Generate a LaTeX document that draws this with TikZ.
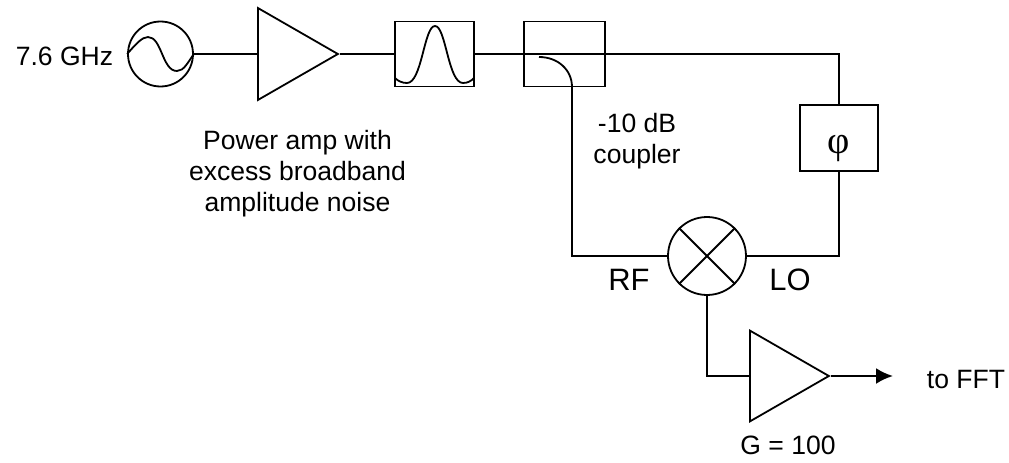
\documentclass[tikz,border=0pt]{standalone}
\usepackage{fontspec}
\setmainfont{Liberation Sans}
\newfontfamily\phifont{Liberation Serif}
\usetikzlibrary{arrows.meta,shapes.geometric}

\begin{document}
\begin{tikzpicture}[x=0.02cm, y=-0.02cm, >=Latex, line width=0.036cm,
    font=\fontsize{15.1}{17.8}\selectfont,
    block/.style={draw, rectangle, inner sep=0pt},
    ring/.style={draw, circle, inner sep=0pt},
    amp/.style={draw, isosceles triangle, isosceles triangle stretches,
      inner sep=0pt, minimum width=#1*1.15, minimum height=#1},
    port/.style={font=\fontsize{17.6}{20}\selectfont},
    arrow/.style={-{Latex[length=0.34cm,width=0.32cm]}, line width=0.045cm}]

    \useasboundingbox (0,0) rectangle (1009,463);

    % Top chain
    \node[ring, minimum size=1.3cm] (source) at (160.5,54) {};
    \node[amp=1.6cm, anchor=lower side] (power) at (257,54) {};
    \node[block, minimum width=1.58cm, minimum height=1.3cm] (filter) at (434.5,54) {};
    \node[block, minimum width=1.62cm, minimum height=1.3cm] (coupler) at (564.5,54) {};
    \node[block, minimum width=1.56cm, minimum height=1.32cm] (phase) at (839,138)
      {\raisebox{-9pt}[0pt][0pt]{\fontsize{22}{22}\phifont φ}};

    % Bottom chain
    \node[ring, minimum size=1.56cm] (mixer) at (707,256) {};
    \node[amp=1.58cm, anchor=lower side] (gain) at (749,376) {};
    \coordinate (fft) at (893,376);

    % Corners
    \coordinate (topright) at (839,54);
    \coordinate (rfcorner) at (572,256);
    \coordinate (ifcorner) at (707,376);
    \coordinate (tap) at (539,57);
    \coordinate (tapout) at (572,87);

    % Labels
    \node (freq) at (64.5,56) {7.6 GHz};
    \node[align=center] (powerlabel) at (297.5,173.5) {Power amp with\\excess broadband\\amplitude noise};
    \node[align=center] (couplerlabel) at (637,141.5) {-10 dB\\coupler};
    \node[port] (rf) at (629,280) {RF};
    \node[port] (lo) at (790,280) {LO};
    \node (gainlabel) at (788,445) {G = 100};
    \node (fftlabel) at (966,380) {to FFT};

    % Connectors
    \draw (source) -- (power.lower side);
    \draw (power.apex) -- (filter);
    \draw (filter) -- (coupler.west);
    \draw (coupler.west) -- (topright) -- (phase);
    \draw (phase) |- (mixer);
    \draw (tapout) -- (rfcorner) -- (mixer);
    \draw (mixer) -- (ifcorner) -- (gain.lower side);
    \draw[arrow] (gain.apex) -- (fft);

    % Coupler tap
    \draw (tap) .. controls (558,57) and (572,70) .. (tapout);

    % Mixer cross
    \draw (mixer.45) -- (mixer.225);
    \draw (mixer.135) -- (mixer.315);

    % Sine and passband
    \draw (source.west) .. controls (136,44) and (142,37) .. (148,37)
      .. controls (162,37) and (162,71) .. (177,71)
      .. controls (184,71) and (188,62) .. (source.east);
    \draw (395,78) .. controls (398,81) and (402,83) .. (407,83)
      .. controls (422,83) and (424,26) .. (435,26)
      .. controls (446,26) and (448,83) .. (463,83)
      .. controls (468,83) and (471,81) .. (474,78);
\end{tikzpicture}
\end{document}
